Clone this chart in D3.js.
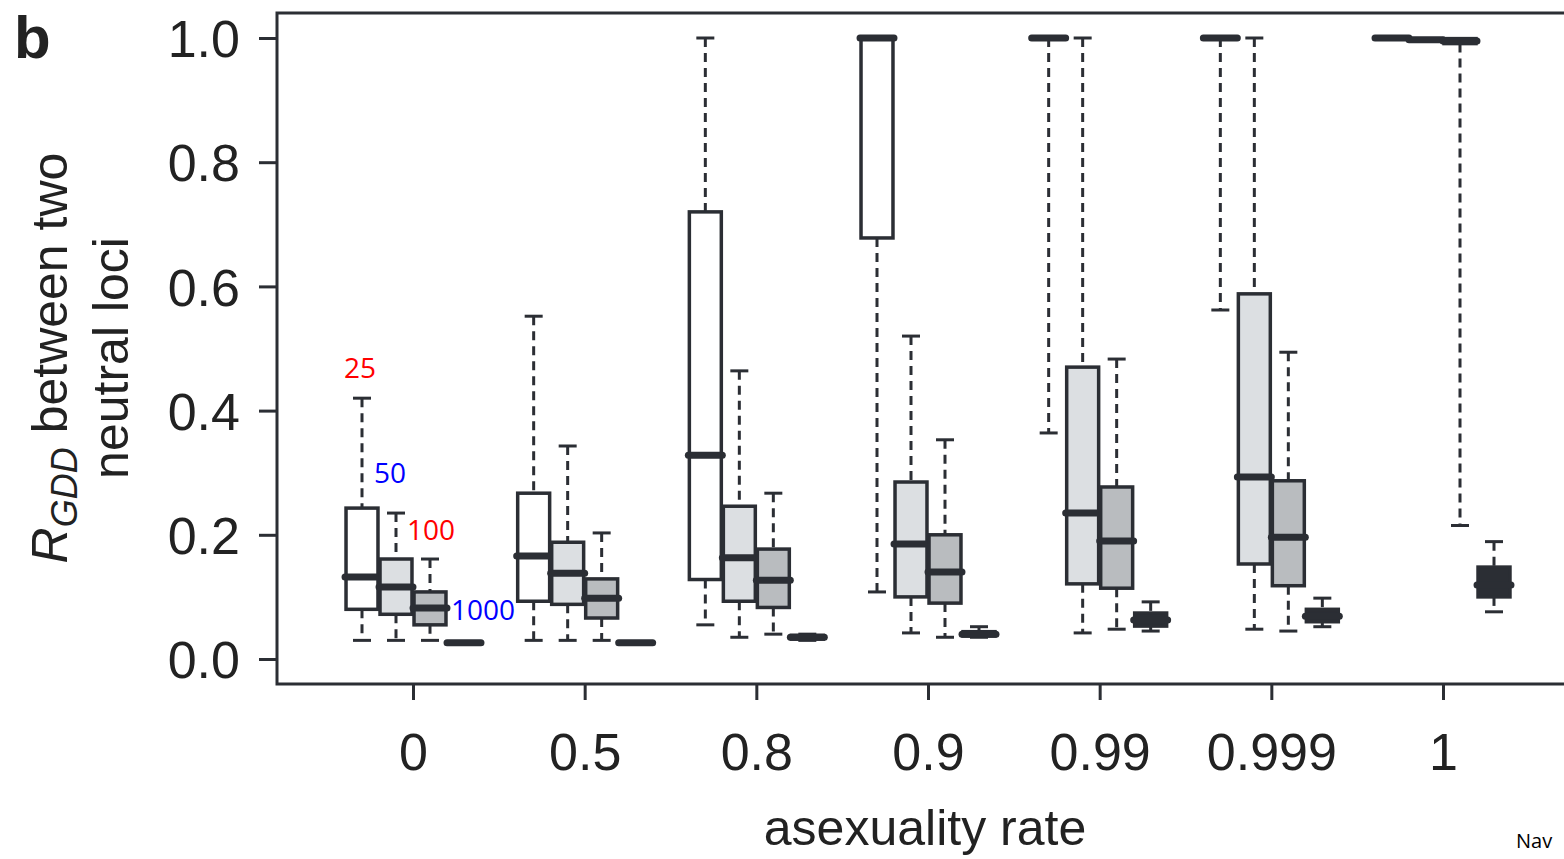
<!DOCTYPE html>
<html>
<head>
<meta charset="utf-8">
<script src="https://cdn.jsdelivr.net/npm/d3@7"></script>
<style>
  body { margin: 0; background: #fff; }
  svg text { font-family: "Liberation Sans", Arial, Helvetica, sans-serif; }
</style>
</head>
<body>
<div id="chart"></div>
<script>
// asexuality rate groups and population sizes
var rates = ["0", "0.5", "0.8", "0.9", "0.99", "0.999", "1"];
var popSizes = [25, 50, 100, 1000];
var yTicks = [0, 0.2, 0.4, 0.6, 0.8, 1.0];

// each entry: [whisker low, q1, median, q3, whisker high], one per rate
var n25 = [
  [0.03, 0.080, 0.132, 0.243, 0.420],
  [0.03, 0.093, 0.166, 0.267, 0.552],
  [0.055, 0.128, 0.328, 0.720, 1.0],
  [0.108, 0.678, 1.0, 1.0, 1.0],
  [0.364, 1.0, 1.0, 1.0, 1.0],
  [0.562, 1.0, 1.0, 1.0, 1.0],
  [1.0, 1.0, 1.0, 1.0, 1.0]
];
var n50 = [
  [0.03, 0.072, 0.116, 0.161, 0.235],
  [0.03, 0.088, 0.138, 0.188, 0.343],
  [0.035, 0.093, 0.163, 0.246, 0.464],
  [0.042, 0.100, 0.185, 0.285, 0.520],
  [0.042, 0.121, 0.235, 0.470, 1.0],
  [0.048, 0.153, 0.293, 0.588, 1.0],
  [0.997, 0.997, 0.997, 0.998, 0.998]
];
var n100 = [
  [0.03, 0.055, 0.082, 0.108, 0.161],
  [0.03, 0.066, 0.098, 0.129, 0.203],
  [0.04, 0.083, 0.127, 0.177, 0.267],
  [0.035, 0.090, 0.140, 0.200, 0.353],
  [0.048, 0.114, 0.190, 0.277, 0.483],
  [0.045, 0.118, 0.196, 0.287, 0.494],
  [0.215, 0.991, 0.995, 0.999, 0.999]
];
var n1000 = [
  [0.025, 0.025, 0.026, 0.027, 0.027],
  [0.025, 0.025, 0.026, 0.027, 0.027],
  [0.030, 0.032, 0.035, 0.038, 0.040],
  [0.035, 0.037, 0.040, 0.044, 0.052],
  [0.045, 0.053, 0.063, 0.074, 0.092],
  [0.052, 0.060, 0.069, 0.080, 0.098],
  [0.076, 0.100, 0.119, 0.148, 0.189]
];
var fills = ["#ffffff", "#dcdfe2", "#b9bcbf", "#2b2e34"];
var labelColors = ["#ff0000", "#0000ff", "#ff0000", "#0000ff"];

var width = 1564, height = 859;
var ink = "#2b2e34";

var svg = d3.select("#chart").append("svg")
  .attr("width", width)
  .attr("height", height);

var plotLeft = 277, plotTop = 13, plotBottom = 684;

var y = d3.scaleLinear().domain([0, 1]).range([659, 38]);
var x = d3.scalePoint().domain(rates).range([413, 1443]);
var xInner = d3.scaleBand().domain(popSizes).range([-68, 68]).padding(0);
var boxW = xInner.bandwidth() * 0.94;

// frame (cut at the right edge like the reference)
svg.append("path")
  .attr("d", "M" + (width + 10) + "," + plotTop + "H" + plotLeft + "V" + plotBottom + "H" + (width + 10))
  .attr("fill", "none")
  .attr("stroke", ink)
  .attr("stroke-width", 3);

// y axis
var yAxis = d3.axisLeft(y).tickValues(yTicks).tickSize(18).tickPadding(19)
  .tickFormat(d3.format(".1f"));
var gy = svg.append("g").attr("transform", "translate(" + plotLeft + ",0)").call(yAxis);
gy.select(".domain").remove();
gy.selectAll("line").attr("stroke", ink).attr("stroke-width", 3);
gy.selectAll("text")
  .attr("fill", "#222")
  .style("font-size", "52px")
  .attr("dy", "0.36em");

// x axis
var xAxis = d3.axisBottom(x).tickSize(16).tickPadding(33);
var gx = svg.append("g").attr("transform", "translate(0," + plotBottom + ")").call(xAxis);
gx.select(".domain").remove();
gx.selectAll("line").attr("stroke", ink).attr("stroke-width", 3);
gx.selectAll("text")
  .attr("fill", "#222")
  .style("font-size", "52px");

// boxes
var series = [n25, n50, n100, n1000];
var boxes = [];
series.forEach(function (s, k) {
  s.forEach(function (v, i) {
    boxes.push({rate: rates[i], size: popSizes[k], k: k, lo: v[0], q1: v[1], med: v[2], q3: v[3], hi: v[4]});
  });
});

var g = svg.append("g");
var bx = g.selectAll(".box")
  .data(boxes)
  .enter()
  .append("g")
  .attr("class", "box")
  .attr("transform", function (d) {
    return "translate(" + (x(d.rate) + xInner(d.size) + xInner.bandwidth() / 2) + ",0)";
  });

// whiskers
bx.filter(function (d) { return d.hi > d.q3; })
  .append("line")
  .attr("y1", function (d) { return y(d.hi); })
  .attr("y2", function (d) { return y(d.q3); })
  .attr("stroke", ink).attr("stroke-width", 3).attr("stroke-dasharray", "9,6");
bx.filter(function (d) { return d.lo < d.q1; })
  .append("line")
  .attr("y1", function (d) { return y(d.q1); })
  .attr("y2", function (d) { return y(d.lo); })
  .attr("stroke", ink).attr("stroke-width", 3).attr("stroke-dasharray", "9,6");
// caps
bx.append("line")
  .attr("x1", -9).attr("x2", 9)
  .attr("y1", function (d) { return y(d.hi); })
  .attr("y2", function (d) { return y(d.hi); })
  .attr("stroke", ink).attr("stroke-width", 3);
bx.append("line")
  .attr("x1", -9).attr("x2", 9)
  .attr("y1", function (d) { return y(d.lo); })
  .attr("y2", function (d) { return y(d.lo); })
  .attr("stroke", ink).attr("stroke-width", 3);

bx.append("rect")
  .attr("x", -boxW / 2)
  .attr("width", boxW)
  .attr("y", function (d) { return y(d.q3); })
  .attr("height", function (d) { return y(d.q1) - y(d.q3); })
  .attr("fill", function (d) { return fills[d.k]; })
  .attr("stroke", ink)
  .attr("stroke-width", 3.5);

bx.append("line")
  .attr("x1", -boxW / 2 - 1).attr("x2", boxW / 2 + 1)
  .attr("y1", function (d) { return y(d.med); })
  .attr("y2", function (d) { return y(d.med); })
  .attr("stroke", ink)
  .attr("stroke-width", 7)
  .attr("stroke-linecap", "round");

// population size labels
var labelPos = [[360, 378], [390, 483], [431, 540], [483, 620]];
svg.selectAll(".nlab")
  .data(popSizes)
  .enter()
  .append("text")
  .attr("class", "nlab")
  .attr("x", function (d, i) { return labelPos[i][0]; })
  .attr("y", function (d, i) { return labelPos[i][1]; })
  .attr("text-anchor", "middle")
  .attr("fill", function (d, i) { return labelColors[i]; })
  .style("font-family", "'Open Sans', sans-serif")
  .style("font-size", "28px")
  .text(function (d) { return d; });

// titles
svg.append("text")
  .attr("x", 925).attr("y", 845)
  .attr("text-anchor", "middle")
  .attr("fill", "#222")
  .style("font-size", "50px")
  .text("asexuality rate");

var yt = svg.append("text")
  .attr("transform", "translate(67,358) rotate(-90)")
  .attr("text-anchor", "middle")
  .attr("fill", "#222")
  .style("font-size", "50px");
yt.append("tspan").style("font-style", "italic").text("R");
yt.append("tspan").style("font-style", "italic").style("font-size", "36px").attr("dy", 10).text("GDD");
yt.append("tspan").attr("dy", -10).text(" between two");

svg.append("text")
  .attr("transform", "translate(128,358) rotate(-90)")
  .attr("text-anchor", "middle")
  .attr("fill", "#222")
  .style("font-size", "50px")
  .text("neutral loci");

svg.append("text")
  .attr("x", 14).attr("y", 58)
  .attr("fill", "#222")
  .style("font-size", "60px")
  .style("font-weight", "bold")
  .text("b");

svg.append("text")
  .attr("x", 1516).attr("y", 848)
  .attr("fill", "#000")
  .style("font-family", "'Open Sans', sans-serif")
  .style("font-size", "20px")
  .text("Nav");
</script>
</body>
</html>
